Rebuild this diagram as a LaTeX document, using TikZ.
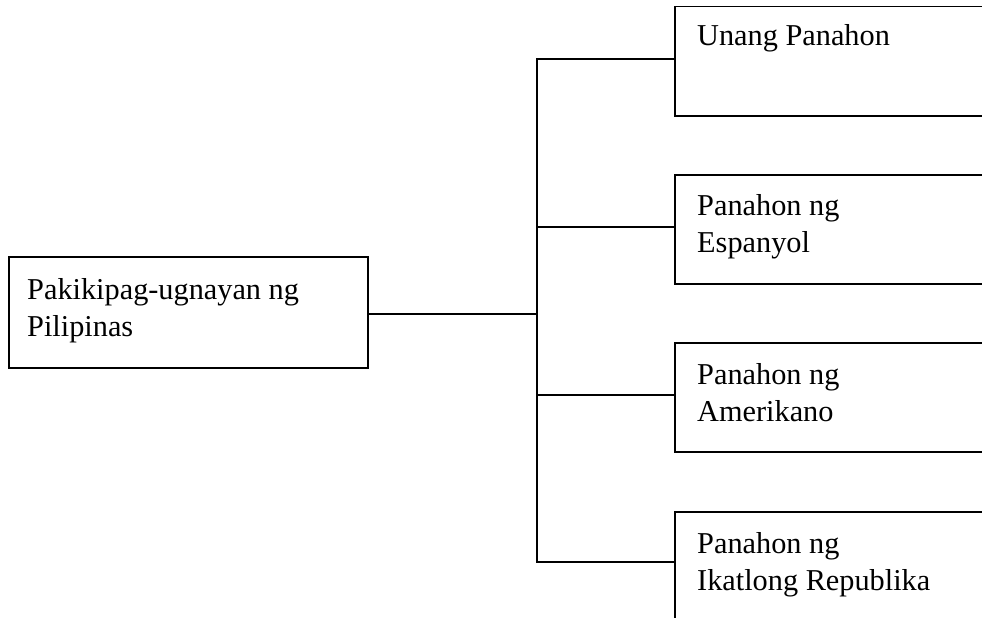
\documentclass[tikz,border=0pt]{standalone}
\usepackage{fontspec}
\setmainfont{Liberation Serif}
\begin{document}
\begin{tikzpicture}[x=1pt,y=-1pt,
  box/.style={draw,line width=1.5pt,rectangle,inner sep=0pt,anchor=north west},
  lbl/.style={anchor=base west,inner sep=0pt,font=\fontsize{30.3}{37}\selectfont,align=left},
  conn/.style={line width=1.5pt,line cap=rect}]
\useasboundingbox (0,0) rectangle (982,618);
\clip (0,0) rectangle (982,618);
% left box
\node[box,minimum width=359pt,minimum height=111pt] (root) at (8,256) {};
\node[lbl] (roott) at (27,336) {Pakikipag-ugnayan ng\\Pilipinas};
% right boxes
\node[box,minimum width=340pt,minimum height=109pt] (b1) at (674,6) {};
\node[box,minimum width=340pt,minimum height=109pt] (b2) at (674,174) {};
\node[box,minimum width=340pt,minimum height=109pt] (b3) at (674,342) {};
\node[box,minimum width=340pt,minimum height=120pt] (b4) at (674,511) {};
\node[lbl] (t1) at (697,46) {Unang Panahon};
\node[lbl] (t2) at (697,252) {Panahon ng\\Espanyol};
\node[lbl] (t3) at (697,421) {Panahon ng\\Amerikano};
\node[lbl] (t4) at (697,590) {Panahon ng\\Ikatlong Republika};
% bus
\coordinate (j0) at (537,314);
\coordinate (j1) at (537,59);
\coordinate (j2) at (537,227);
\coordinate (j3) at (537,395);
\coordinate (j4) at (537,562);
\draw[conn] (j1) -- (j4);
\draw[conn] (root.east |- j0) -- (j0);
\draw[conn] (j1) -- (b1.west |- j1);
\draw[conn] (j2) -- (b2.west |- j2);
\draw[conn] (j3) -- (b3.west |- j3);
\draw[conn] (j4) -- (b4.west |- j4);
\end{tikzpicture}
\end{document}
